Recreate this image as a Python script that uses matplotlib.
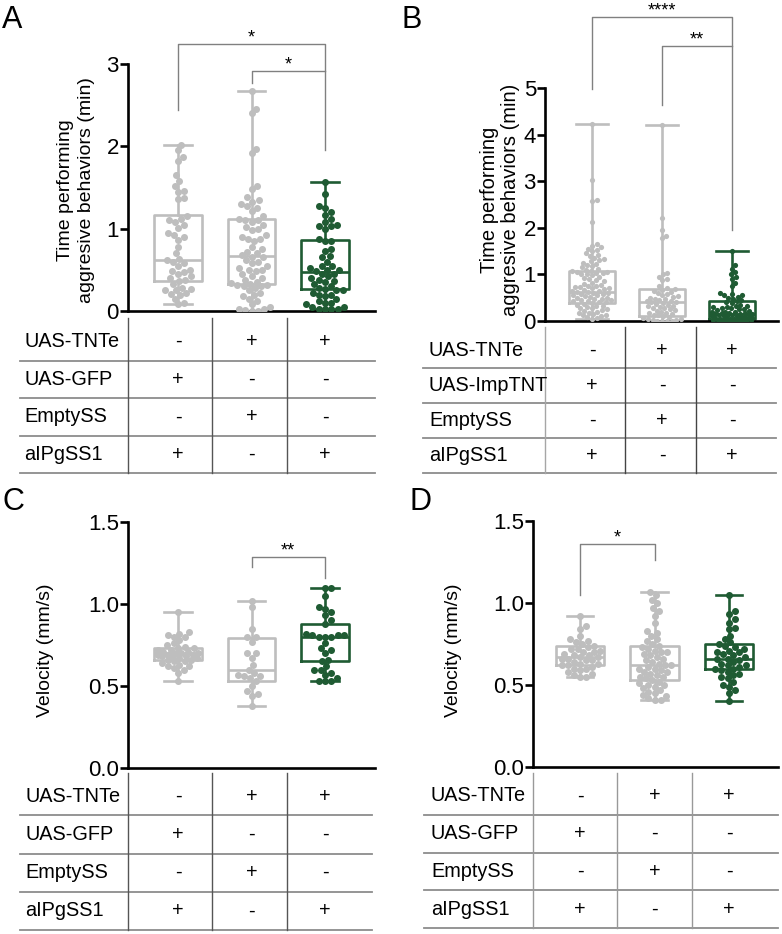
import matplotlib
matplotlib.use("Agg")
import matplotlib.pyplot as plt
import numpy as np

plt.rcParams['font.family'] = ['Liberation Sans', 'DejaVu Sans']

W, H = 782, 934
GRAY = '#BEBEBE'
GREEN = '#1F5B33'
BRACKET = '#808080'

# ---------------- data ----------------
# panel A: time performing aggressive behaviors (min)
a_ctrl1 = [2.02, 1.95, 1.87, 1.82, 1.65, 1.58, 1.52, 1.46, 1.45, 1.37, 1.36, 1.15, 1.12,
           1.10, 1.08, 1.04, 1.01, 0.95, 0.92, 0.90, 0.86, 0.78, 0.70, 0.63, 0.62, 0.60,
           0.58, 0.55, 0.50, 0.48, 0.47, 0.45, 0.42, 0.40, 0.38, 0.36, 0.33, 0.28, 0.27,
           0.26, 0.25, 0.22, 0.21, 0.20, 0.15, 0.10, 0.08]
a_ctrl2 = [2.67, 2.45, 2.40, 1.97, 1.92, 1.52, 1.48, 1.38, 1.35, 1.33, 1.30, 1.28, 1.25,
           1.22, 1.15, 1.12, 1.10, 1.10, 1.08, 1.05, 1.02, 1.00, 0.98, 0.92, 0.90, 0.88,
           0.88, 0.85, 0.78, 0.75, 0.72, 0.70, 0.68, 0.66, 0.65, 0.62, 0.60, 0.58, 0.55,
           0.52, 0.50, 0.50, 0.48, 0.45, 0.42, 0.40, 0.38, 0.35, 0.34, 0.33, 0.32, 0.31,
           0.30, 0.30, 0.28, 0.25, 0.22, 0.20, 0.18, 0.15, 0.12, 0.08, 0.05, 0.03, 0.02,
           0.01, 0.00, 0.00]
a_exp = [1.57, 1.42, 1.27, 1.25, 1.20, 1.17, 1.12, 1.08, 1.05, 1.03, 1.03, 1.00, 0.87,
         0.85, 0.85, 0.75, 0.73, 0.67, 0.65, 0.60, 0.55, 0.55, 0.52, 0.50, 0.50, 0.48,
         0.45, 0.45, 0.42, 0.40, 0.38, 0.37, 0.35, 0.33, 0.30, 0.28, 0.27, 0.25, 0.25,
         0.22, 0.20, 0.20, 0.18, 0.15, 0.12, 0.10, 0.10, 0.08, 0.05, 0.05, 0.03, 0.03,
         0.02, 0.02]
# (whisker low, Q1, median, Q3, whisker high)
a_box = [(0.08, 0.36, 0.62, 1.16, 2.02), (0.00, 0.33, 0.67, 1.12, 2.67), (0.02, 0.27, 0.47, 0.86, 1.57)]

# panel B
b_ctrl1 = [4.22, 3.02, 2.60, 2.58, 2.12, 1.65, 1.62, 1.58, 1.55, 1.52, 1.50, 1.45, 1.42,
           1.40, 1.35, 1.32, 1.30, 1.28, 1.25, 1.22, 1.20, 1.18, 1.15, 1.12, 1.10, 1.08,
           1.07, 1.05, 1.05, 1.03, 1.02, 1.00, 1.00, 0.98, 0.95, 0.92, 0.90, 0.88, 0.85,
           0.82, 0.80, 0.78, 0.76, 0.75, 0.73, 0.72, 0.70, 0.70, 0.68, 0.66, 0.65, 0.64,
           0.63, 0.62, 0.60, 0.60, 0.58, 0.57, 0.55, 0.55, 0.53, 0.52, 0.50, 0.50, 0.48,
           0.47, 0.45, 0.45, 0.43, 0.42, 0.40, 0.40, 0.38, 0.37, 0.35, 0.33, 0.32, 0.30,
           0.28, 0.27, 0.25, 0.23, 0.22, 0.20, 0.18, 0.17, 0.15, 0.13, 0.12, 0.10, 0.08,
           0.06, 0.05]
b_ctrl2 = [4.20, 2.22, 1.95, 1.82, 1.78, 1.02, 1.00, 0.95, 0.90, 0.88, 0.75, 0.70, 0.68,
           0.67, 0.65, 0.63, 0.60, 0.58, 0.55, 0.53, 0.52, 0.50, 0.48, 0.47, 0.45, 0.43,
           0.42, 0.40, 0.40, 0.38, 0.36, 0.35, 0.33, 0.32, 0.30, 0.28, 0.27, 0.25, 0.23,
           0.22, 0.20, 0.18, 0.17, 0.15, 0.13, 0.12, 0.10, 0.08, 0.07, 0.05, 0.04, 0.03,
           0.02, 0.01, 0.00, 0.00, 0.00]
b_exp = [1.50, 1.20, 1.12, 1.05, 1.00, 0.95, 0.90, 0.82, 0.75, 0.60, 0.58, 0.55, 0.55,
         0.52, 0.50, 0.48, 0.45, 0.42, 0.40, 0.38, 0.35, 0.33, 0.32, 0.30, 0.30, 0.28,
         0.27, 0.25, 0.25, 0.23, 0.22, 0.20, 0.20, 0.20, 0.18, 0.18, 0.17, 0.15, 0.15,
         0.15, 0.13, 0.12, 0.12, 0.10, 0.10, 0.10, 0.10, 0.08, 0.08, 0.07, 0.07, 0.06,
         0.05, 0.05, 0.05, 0.04, 0.04, 0.03, 0.03, 0.02, 0.02, 0.01, 0.01, 0.00, 0.00,
         0.00, 0.00]
b_box = [(0.05, 0.38, 0.62, 1.08, 4.22), (0.00, 0.10, 0.40, 0.68, 4.20), (0.00, 0.05, 0.15, 0.43, 1.50)]

# panel C: velocity (mm/s)
c_ctrl1 = [0.95, 0.83, 0.82, 0.81, 0.80, 0.80, 0.78, 0.76, 0.75, 0.74, 0.73, 0.73, 0.72,
           0.72, 0.71, 0.71, 0.70, 0.70, 0.70, 0.69, 0.69, 0.69, 0.68, 0.68, 0.68, 0.67,
           0.67, 0.66, 0.66, 0.65, 0.65, 0.64, 0.63, 0.62, 0.62, 0.61, 0.60, 0.58, 0.53]
c_ctrl2 = [1.02, 0.98, 0.85, 0.80, 0.80, 0.77, 0.70, 0.70, 0.67, 0.63, 0.60, 0.58, 0.57,
           0.56, 0.56, 0.55, 0.53, 0.50, 0.47, 0.45, 0.44, 0.38]
c_exp = [1.10, 1.10, 1.05, 0.98, 0.97, 0.95, 0.93, 0.90, 0.88, 0.82, 0.81, 0.81, 0.81,
         0.80, 0.80, 0.80, 0.76, 0.73, 0.72, 0.70, 0.66, 0.65, 0.62, 0.60, 0.60, 0.58,
         0.57, 0.55, 0.53, 0.53, 0.53]
c_box = [(0.53, 0.66, 0.70, 0.73, 0.95), (0.38, 0.53, 0.60, 0.79, 1.02), (0.53, 0.65, 0.80, 0.88, 1.10)]

# panel D
d_ctrl1 = [0.92, 0.86, 0.84, 0.80, 0.78, 0.77, 0.76, 0.75, 0.74, 0.73, 0.72, 0.72, 0.71,
           0.70, 0.70, 0.69, 0.68, 0.68, 0.67, 0.67, 0.66, 0.66, 0.65, 0.65, 0.64, 0.63,
           0.63, 0.62, 0.62, 0.61, 0.60, 0.60, 0.59, 0.58, 0.57, 0.56, 0.55, 0.55]
d_ctrl2 = [1.07, 1.05, 1.02, 1.00, 0.97, 0.95, 0.92, 0.88, 0.83, 0.82, 0.80, 0.78, 0.77,
           0.75, 0.74, 0.73, 0.72, 0.71, 0.70, 0.70, 0.69, 0.68, 0.67, 0.66, 0.65, 0.64,
           0.63, 0.62, 0.62, 0.61, 0.60, 0.60, 0.59, 0.58, 0.58, 0.57, 0.56, 0.55, 0.55,
           0.54, 0.53, 0.52, 0.51, 0.50, 0.50, 0.49, 0.48, 0.47, 0.46, 0.45, 0.44, 0.43,
           0.42, 0.41, 0.41]
d_exp = [1.05, 0.95, 0.93, 0.90, 0.88, 0.85, 0.84, 0.80, 0.78, 0.76, 0.75, 0.74, 0.73,
         0.72, 0.71, 0.70, 0.70, 0.69, 0.68, 0.67, 0.66, 0.66, 0.65, 0.64, 0.63, 0.62,
         0.62, 0.61, 0.60, 0.60, 0.59, 0.58, 0.57, 0.56, 0.55, 0.54, 0.52, 0.50, 0.49,
         0.47, 0.45, 0.40]
d_box = [(0.55, 0.62, 0.67, 0.74, 0.92), (0.41, 0.53, 0.62, 0.74, 1.07), (0.40, 0.60, 0.66, 0.75, 1.05)]

# significance: (group i, group j, bar top, left leg end, right leg end, label)
a_sig = [(0, 2, 3.24, 2.44, 1.96, '*'), (1, 2, 2.92, 2.77, 2.92, '*')]
b_sig = [(0, 2, 6.52, 4.98, 1.95, '****'), (1, 2, 5.90, 4.64, 5.90, '**')]
c_sig = [(1, 2, 1.287, 1.225, 1.16, '**')]
d_sig = [(0, 1, 1.36, 1.05, 1.26, '*')]

# genotype tables
rows_gfp = ['UAS-TNTe', 'UAS-GFP', 'EmptySS', 'aIPgSS1']
rows_imp = ['UAS-TNTe', 'UAS-ImpTNT', 'EmptySS', 'aIPgSS1']
signs = [['-', '+', '+'], ['+', '-', '-'], ['-', '+', '-'], ['+', '-', '+']]

fig = plt.figure(figsize=(W / 100, H / 100), dpi=100)


def px_axes(l, t, r, b):
    return fig.add_axes([l / W, 1 - b / H, (r - l) / W, (b - t) / H])


def swarm(ax, xc, vals, d, maxw):
    # beeswarm in pixel space, kept inside +-maxw; overlaps allowed when it gets full
    ys = np.sort(np.asarray(vals, float))
    pts = ax.transData.transform(np.column_stack([np.full(len(ys), xc), ys]))
    placed = []
    for px, py in pts:
        near = [(qx, qy) for qx, qy in placed if abs(py - qy) < d]
        cands = [px]
        for qx, qy in near:
            dx = np.sqrt(d * d - (py - qy) ** 2)
            cands += [qx + dx, qx - dx]
        cands = [c for c in cands if abs(c - px) <= maxw]
        cands.sort(key=lambda c: abs(c - px))
        spot = None
        for c in cands:
            if all((c - qx) ** 2 + (py - qy) ** 2 >= d * d - 1e-6 for qx, qy in near):
                spot = c
                break
        if spot is None:
            grid = np.linspace(px - maxw, px + maxw, 25)
            score = [min((g - qx) ** 2 + (py - qy) ** 2 for qx, qy in near) for g in grid]
            spot = grid[int(np.argmax(score))]
        placed.append((spot, py))
    return ax.transData.inverted().transform(np.array(placed))


def panel(rect, c0, sp, ppu, ticks, ticklabels, groups, boxes, capw, msize, sig, sigsize):
    l, t, r, b = rect
    ax = px_axes(l, t, r, b)
    ax.set_xlim((l - c0) / sp, (r - c0) / sp)
    ax.set_ylim(0, (b - t) / ppu)
    colors = [GRAY, GRAY, GREEN]
    for i, (vals, bx, col) in enumerate(zip(groups, boxes, colors)):
        st = [dict(whislo=bx[0], q1=bx[1], med=bx[2], q3=bx[3], whishi=bx[4], fliers=[])]
        lp = dict(color=col, linewidth=1.9)
        ax.bxp(st, positions=[i], widths=0.65, capwidths=capw, showfliers=False,
               boxprops=lp, whiskerprops=lp, capprops=lp, medianprops=lp, zorder=2)
        xy = swarm(ax, i, vals, msize * 0.92, 0.65 / 2 * sp - msize / 2)
        ax.scatter(xy[:, 0], xy[:, 1], s=(msize * 0.72) ** 2, color=col, linewidths=0, zorder=3)
    for sp_name in ['top', 'right']:
        ax.spines[sp_name].set_visible(False)
    ax.spines['left'].set_bounds(ticks[0], ticks[-1])
    ax.spines['left'].set_linewidth(1.9)
    ax.spines['bottom'].set_linewidth(1.9)
    ax.set_yticks(ticks)
    ax.set_yticklabels(ticklabels)
    ax.tick_params(axis='y', length=5.5, width=1.9, labelsize=16, pad=1)
    ax.set_xticks([])
    for i, j, top, yl, yr, lab in sig:
        ax.plot([i, i, j, j], [yl, top, top, yr], color=BRACKET, lw=1.0, clip_on=False)
        ax.text((i + j) / 2, top + 1.5 / ppu, lab, ha='center', va='baseline',
                fontsize=sigsize, clip_on=False)
    return ax


def table(rect, c0, sp, seps, vtop, label_px, rows, vcolors, hcolor):
    l, t, r, b = rect
    tax = px_axes(l, t, r, b)
    x0, x1 = (l - c0) / sp, (r - c0) / sp
    tax.set_xlim(x0, x1)
    tax.set_ylim(4, 0)
    tax.axis('off')
    for k in range(1, 5):
        tax.plot([x0, x1], [k, k], color=hcolor, lw=1.3, clip_on=False)
    for s, c in zip(seps, vcolors):
        tax.plot([(s - c0) / sp] * 2, [vtop, 4], color=c, lw=1.0, clip_on=False)
    for k, (name, row) in enumerate(zip(rows, signs)):
        tax.text((label_px - c0) / sp, k + 0.5, name, ha='left', va='center', fontsize=14.3)
        for g, s in enumerate(row):
            tax.text(g, k + 0.5, s, ha='center', va='center', fontsize=14.3)


def ylabel(x, y, txt, size, ls):
    fig.text(x / W, 1 - y / H, txt, rotation=90, ha='center', va='center',
             fontsize=size, linespacing=ls, multialignment='center')


# ---------------- panel A ----------------
panel((128, 30, 375, 311), 178, 73.5, 82.33, [0, 1, 2, 3], ['0', '1', '2', '3'],
      [a_ctrl1, a_ctrl2, a_exp], a_box, 0.37, 7.0, a_sig, 13)
table((20, 323, 375, 473), 178, 73.5, [128, 212, 287], -0.13, 24, rows_gfp,
      ['#555555'] * 3, '#8C8C8C')
ylabel(76, 190, 'Time performing\naggresive behaviors (min)', 14, 1.25)
fig.text(2 / W, 1 - 5 / H, 'A', fontsize=22, ha='left', va='top')

# ---------------- panel B ----------------
panel((545, 5, 778, 321), 592, 70, 46.6, [0, 1, 2, 3, 4, 5], ['0', '1', '2', '3', '4', '5'],
      [b_ctrl1, b_ctrl2, b_exp], b_box, 0.47, 5.2, b_sig, 13)
table((423, 333, 776, 473), 592, 70, [545, 625, 696], -0.17, 429, rows_imp,
      ['#A6A6A6', '#444444', '#444444'], '#8C8C8C')
ylabel(500, 200, 'Time performing\naggresive behaviors (min)', 14.5, 1.1)
fig.text(402 / W, 1 - 5 / H, 'B', fontsize=22, ha='left', va='top')

# ---------------- panel C ----------------
panel((128, 500, 375, 768), 178, 73.5, 164, [0, 0.5, 1.0, 1.5], ['0.0', '0.5', '1.0', '1.5'],
      [c_ctrl1, c_ctrl2, c_exp], c_box, 0.37, 7.0, c_sig, 13)
table((20, 777, 372, 930), 178, 73.5, [128, 212, 287], -0.1, 25, rows_gfp,
      ['#555555'] * 3, '#8C8C8C')
ylabel(46, 650, 'Velocity (mm/s)', 14, 1.2)
fig.text(2 / W, 1 - 487 / H, 'C', fontsize=22, ha='left', va='top')

# ---------------- panel D ----------------
panel((533, 500, 778, 767), 580, 74.5, 164, [0, 0.5, 1.0, 1.5], ['0.0', '0.5', '1.0', '1.5'],
      [d_ctrl1, d_ctrl2, d_exp], d_box, 0.36, 7.0, d_sig, 13)
table((424, 777, 778, 928), 580, 74.5, [533, 617, 692], -0.1, 431, rows_gfp,
      ['#999999'] * 3, '#8C8C8C')
ylabel(453, 650, 'Velocity (mm/s)', 14, 1.2)
fig.text(410 / W, 1 - 487 / H, 'D', fontsize=22, ha='left', va='top')

fig.savefig('out.png', dpi=100)
